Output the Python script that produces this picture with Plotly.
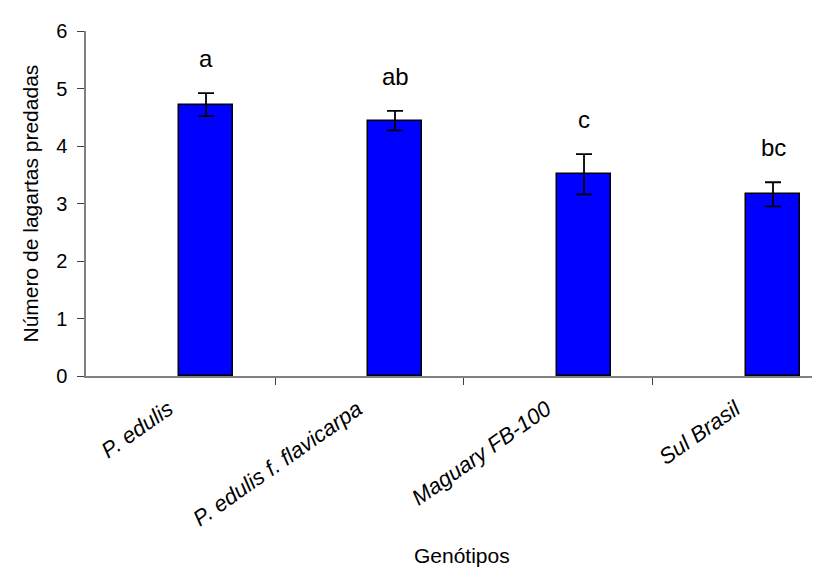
import plotly.graph_objects as go

categories = ["P. edulis", "P. edulis f. flavicarpa", "Maguary FB-100", "Sul Brasil"]
means = [4.72, 4.44, 3.51, 3.16]
errors = [0.20, 0.17, 0.35, 0.21]
letters = ["a", "ab", "c", "bc"]
y_ticks = [0, 1, 2, 3, 4, 5, 6]

pos = list(range(len(categories)))
FONT = "Liberation Sans, Arial, sans-serif"

fig = go.Figure()
fig.add_trace(go.Bar(
    x=pos, y=means,
    offset=-0.01, width=0.29,
    marker=dict(color="#0000FF", line=dict(color="black", width=1.5)),
    error_y=dict(type="data", array=errors, visible=True, color="black",
                 thickness=1.8, width=8),
    showlegend=False,
))

for i, (m, e, l) in enumerate(zip(means, errors, letters)):
    fig.add_annotation(x=i + 0.135, y=m + e, text=l, showarrow=False,
                       xref="x", yref="y", yanchor="bottom", yshift=19,
                       font=dict(family=FONT, size=24, color="black"))

fig.add_annotation(text="Número de lagartas predadas", xref="paper", yref="paper",
                   x=0, y=0.5, xanchor="center", yanchor="middle", xshift=-56,
                   textangle=-90, showarrow=False,
                   font=dict(family=FONT, size=21, color="black"))
fig.add_annotation(text="Genótipos", xref="paper", yref="paper",
                   x=0, y=0, xanchor="center", yanchor="middle",
                   xshift=376, yshift=-179, showarrow=False,
                   font=dict(family=FONT, size=21, color="black"))

fig.update_xaxes(
    range=[-0.5, 3.426],
    tickvals=pos, ticktext=categories, tickangle=-35,
    ticks="", ticklen=0,
    tickfont=dict(family=FONT, size=22, color="black", style="italic"),
    ticklabelstandoff=10, ticklabelshift=-12,
    showline=True, linecolor="#808080", linewidth=1.5,
    showgrid=False, zeroline=False,
    minor=dict(tickvals=[0.5, 1.5, 2.5], ticks="outside", ticklen=7,
               tickcolor="#404040", tickwidth=1, showgrid=False),
)
fig.update_yaxes(
    range=[0, 6], tickvals=y_ticks,
    ticks="outside", ticklen=7, tickcolor="#404040", tickwidth=1,
    tickfont=dict(family=FONT, size=20, color="black"),
    ticklabelstandoff=6,
    showline=True, linecolor="#808080", linewidth=1.5,
    showgrid=False, zeroline=False,
)
fig.update_layout(
    width=820, height=571,
    margin=dict(l=78, r=0, t=23, b=203),
    plot_bgcolor="white", paper_bgcolor="white",
    bargap=0,
)
fig.write_html("out.html")
